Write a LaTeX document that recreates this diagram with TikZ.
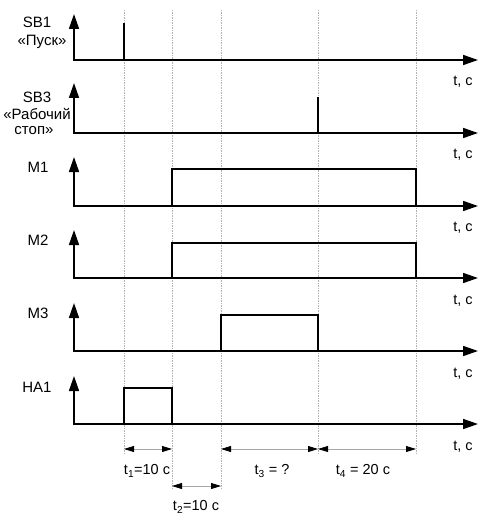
\documentclass[tikz,border=0pt]{standalone}
\usepackage{fontspec}
\setmainfont{Liberation Sans}
\usetikzlibrary{arrows.meta}
\begin{document}
\begin{tikzpicture}[x=1pt,y=-1pt,
  axis/.style={line width=1.6pt,-{Triangle[length=15pt,width=10pt]}},
  sig/.style={line width=1.3pt},
  pulse/.style={line width=2.8pt},
  grid/.style={gray!60,line width=0.5pt,dash pattern=on 1.5pt off 1pt},
  dim/.style={gray!70,line width=0.8pt,{Triangle[length=10pt,width=6pt,black]}-{Triangle[length=10pt,width=6pt,black]}},
  lbl/.style={font=\fontsize{15}{17}\selectfont,inner sep=0pt},
  tlbl/.style={font=\fontsize{14.5}{17}\selectfont,inner sep=0pt}]
\useasboundingbox (0,0) rectangle (486,516);
% grid lines
\draw[grid] (124,10) -- (124,453);
\draw[grid] (172,10) -- (172,490);
\draw[grid] (221,10) -- (221,490);
\draw[grid] (318,10) -- (318,455);
\draw[grid] (416,10) -- (416,455);
% axes: baseline y values
\foreach \b/\top/\tl in {60/14/82, 133/83/155, 206/157/228, 278/230/301, 351/303/374, 424/376/447}{
  \draw[axis] (74,\b) -- (74,\top);
  \draw[axis] (73.2,\b) -- (478,\b);
  \node[tlbl] at (463,\tl) {t, c};
}
% SB1
\node[lbl] (sb1) at (37,22) {SB1};
\node[lbl] (pusk) at (42,42) {«Пуск»};
\draw[pulse] (124,60) -- (124,23);
% SB3
\node[lbl] (sb3) at (37,97) {SB3};
\node[lbl] (rab) at (37,114) {«Рабочий};
\node[lbl] (stop) at (34,131) {стоп»};
\draw[pulse] (318,133) -- (318,97);
% M1
\node[lbl] (m1) at (38,167) {M1};
\draw[sig] (172,206) -- (172,169) -- (416,169) -- (416,206);
% M2
\node[lbl] (m2) at (38,240) {M2};
\draw[sig] (172,278) -- (172,243) -- (416,243) -- (416,278);
% M3
\node[lbl] (m3) at (38,313) {M3};
\draw[sig] (221,351) -- (221,315) -- (318,315) -- (318,351);
% HA1
\node[lbl] (ha1) at (37,387) {HA1};
\draw[sig] (124,424) -- (124,388) -- (172,388) -- (172,424);
% dimensions
\coordinate (a1) at (124,449); \coordinate (a2) at (172,449);
\coordinate (a3) at (221,449); \coordinate (a4) at (318,449);
\coordinate (a5) at (416,449);
\coordinate (b1) at (172,486); \coordinate (b2) at (221,486);
\draw[dim] (a1) -- (a2);
\draw[dim] (a3) -- (a4);
\draw[dim] (a4) -- (a5);
\draw[dim] (b1) -- (b2);
\node[tlbl] (t1) at (147,471) {t\textsubscript{1}=10 c};
\node[tlbl] (t2) at (196,507) {t\textsubscript{2}=10 c};
\node[tlbl] (t3) at (272,471) {t\textsubscript{3} = ?};
\node[tlbl] (t4) at (363,471) {t\textsubscript{4} = 20 c};
\end{tikzpicture}
\end{document}
